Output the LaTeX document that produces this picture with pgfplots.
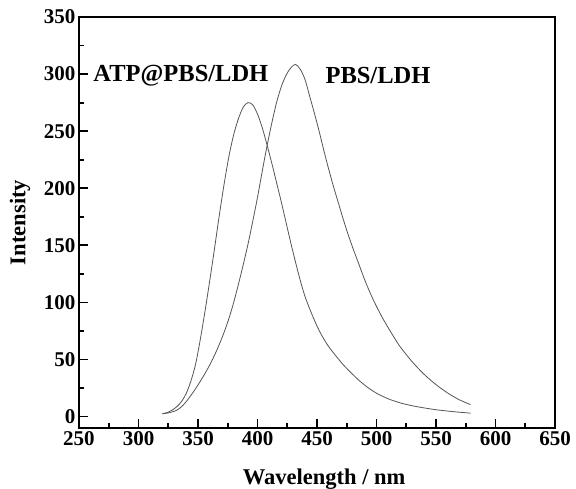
\documentclass[border=0pt]{standalone}
\usepackage{pgfplots}
\pgfplotsset{compat=1.18}
\usepackage{fontspec}
\setmainfont{Liberation Serif}
\definecolor{curve}{RGB}{85,85,85}
\begin{document}
\begin{tikzpicture}[x=1bp,y=1bp]
\useasboundingbox (-79,-61) rectangle (497,428);
\begin{axis}[at={(0,0)},anchor=south west,
  scale only axis, width=476bp, height=411bp,
  xmin=250, xmax=650, ymin=-10, ymax=350,
  xtick={250,300,...,650}, ytick={0,50,...,350},
  minor x tick num=1, minor y tick num=1,
  xtick pos=bottom, ytick pos=left, tick align=inside,
  major tick length=9bp, minor tick length=5bp,
  every tick/.style={black, line width=1.8bp},
  axis line style={line width=2.2bp},
  /pgf/number format/assume math mode=true,
  ticklabel style={font=\bfseries\fontsize{21bp}{25bp}\selectfont},
  xlabel={Wavelength / nm}, ylabel={Intensity},
  label style={font=\bfseries\fontsize{22.5bp}{26bp}\selectfont},
  xlabel style={at={(axis description cs:0.515,-0.124)}, anchor=center},
  ylabel style={at={(axis description cs:-0.124,0.5)}, anchor=center},
  clip=false,
]
\addplot[curve, line width=0.8bp, smooth, tension=0.5] coordinates {
(320,2.5) (324,3.5) (328,5.5) (332,8.5) (336,13) (340,20) (344,31)
(348,46) (352,68) (356,93) (360,120) (364,148) (368,177) (372,204)
(376,228) (380,247) (384,261) (388,271) (392,275) (396,273) (400,265)
(404,253) (408,238) (412,222) (416,205) (420,188) (424,170) (428,152)
(432,135) (436,119) (440,105) (444,94) (448,84) (452,75) (456,67.5)
(460,61) (466,53) (472,45.5) (478,39) (485,32) (492,26) (500,20.5)
(510,15.5) (520,12) (530,9.5) (540,7.6) (550,6) (560,4.8) (570,3.8) (579,3)
};
\addplot[curve, line width=0.8bp, smooth, tension=0.5] coordinates {
(320,2.5) (324,3) (328,4) (332,5.5) (336,8.5) (340,13) (344,18.5)
(348,24.5) (352,31) (356,38) (360,45.5) (364,54) (368,63.5) (372,74)
(376,86) (380,100) (384,116) (388,133) (392,151) (396,171) (400,192)
(404,215) (408,237) (412,257) (416,275) (420,289) (424,299) (428,305.5)
(432,308.5) (436,304) (440,295) (444,280) (448,265) (452,249) (456,232)
(460,216) (464,201) (468,187) (472,173) (476,160) (480,148) (485,134)
(490,120) (495,107.5) (500,96.5) (505,86.5) (510,77.5) (515,69) (520,61)
(530,48) (540,37) (550,28) (560,20.5) (570,14.5) (579,10.5)
};
\node[anchor=west, font=\bfseries\fontsize{24.5bp}{28bp}\selectfont, inner sep=0pt] at (axis cs:262,299) {ATP@PBS/LDH};
\node[anchor=west, font=\bfseries\fontsize{24.5bp}{28bp}\selectfont, inner sep=0pt] at (axis cs:457,299) {PBS/LDH};
\end{axis}
\end{tikzpicture}
\end{document}
